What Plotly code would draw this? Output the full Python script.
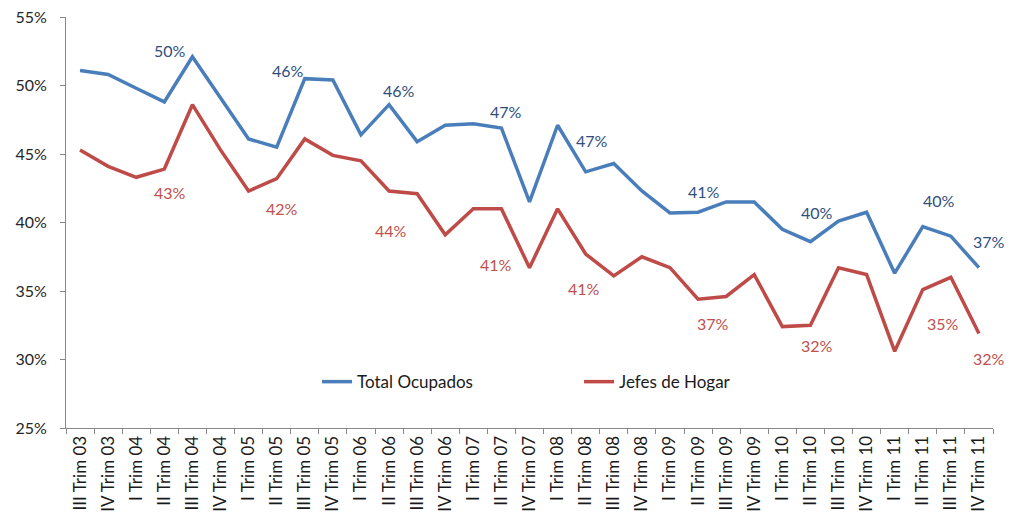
import plotly.graph_objects as go

TRIMESTRES = ['III Trim 03', 'IV Trim 03', 'I Trim 04', 'II Trim 04', 'III Trim 04', 'IV Trim 04',
              'I Trim 05', 'II Trim 05', 'III Trim 05', 'IV Trim 05', 'I Trim 06', 'II Trim 06',
              'III Trim 06', 'IV Trim 06', 'I Trim 07', 'II Trim 07', 'IV Trim 07', 'I Trim 08',
              'II Trim 08', 'III Trim 08', 'IV Trim 08', 'I Trim 09', 'II Trim 09', 'III Trim 09',
              'IV Trim 09', 'I Trim 10', 'II Trim 10', 'III Trim 10', 'IV Trim 10', 'I Trim 11',
              'II Trim 11', 'III Trim 11', 'IV Trim 11']

TOTAL_OCUPADOS = [51.1, 50.8, 49.8, 48.8, 52.1, 49.1, 46.1, 45.5, 50.5, 50.4, 46.4, 48.6,
                  45.9, 47.1, 47.2, 46.9, 41.5, 47.1, 43.7, 44.3, 42.3, 40.7, 40.75, 41.5,
                  41.5, 39.5, 38.6, 40.1, 40.75, 36.3, 39.7, 39.0, 36.7]

JEFES_HOGAR = [45.3, 44.1, 43.3, 43.9, 48.6, 45.3, 42.3, 43.2, 46.1, 44.9, 44.5, 42.3,
               42.1, 39.1, 41.0, 41.0, 36.7, 41.0, 37.7, 36.1, 37.5, 36.7, 34.4, 34.6,
               36.2, 32.4, 32.5, 36.7, 36.2, 30.6, 35.1, 36.0, 31.9]

# etiquetas de datos: texto, posicion x (indice de categoria), posicion y (%)
LABELS_TOTAL = [('50%', 3.20, 52.57), ('46%', 7.40, 51.12), ('46%', 11.36, 49.66),
                ('47%', 15.17, 48.08), ('47%', 18.22, 45.95), ('41%', 22.21, 42.25),
                ('40%', 26.25, 40.75), ('40%', 30.56, 41.6), ('37%', 32.34, 38.61)]
LABELS_JEFES = [('43%', 3.20, 42.18), ('42%', 7.20, 41.0), ('44%', 11.07, 39.39),
                ('41%', 14.80, 36.92), ('41%', 17.94, 35.17), ('37%', 22.52, 32.66),
                ('32%', 26.25, 31.04), ('35%', 30.71, 32.66), ('32%', 32.34, 30.04)]

BLUE = '#4A7EBB'
RED = '#BE4B48'

fig = go.Figure()
fig.add_trace(go.Scatter(x=TRIMESTRES, y=TOTAL_OCUPADOS, name='Total Ocupados',
                         mode='lines', line={'color': BLUE, 'width': 3.5}))
fig.add_trace(go.Scatter(x=TRIMESTRES, y=JEFES_HOGAR, name='Jefes de Hogar',
                         mode='lines', line={'color': RED, 'width': 3.5}))

for text, x, y in LABELS_TOTAL:
    fig.add_annotation(x=x, y=y, text=text, showarrow=False,
                       font={'color': '#2F4E7E', 'size': 16})
for text, x, y in LABELS_JEFES:
    fig.add_annotation(x=x, y=y, text=text, showarrow=False,
                       font={'color': '#C0504D', 'size': 16})

# the page body adds an 8px offset, so the figure is 8px smaller than the window
fig.update_layout(
    width=1010,
    height=523,
    margin={'l': 58, 'r': 25, 't': 9, 'b': 103, 'autoexpand': False},
    font={'family': 'Lato', 'size': 15, 'color': '#262626'},
    plot_bgcolor='white',
    paper_bgcolor='white',
    showlegend=True,
    legend={'orientation': 'h', 'x': 0.2708, 'y': 0.1117, 'yanchor': 'middle',
            'xanchor': 'left', 'entrywidth': 217, 'entrywidthmode': 'pixels',
            'font': {'size': 17, 'color': '#1a1a1a'}, 'bgcolor': 'rgba(0,0,0,0)'},
    xaxis={'type': 'category', 'showline': True, 'linecolor': '#888888', 'linewidth': 1,
           'ticks': 'outside', 'tickson': 'boundaries', 'ticklen': 5, 'tickcolor': '#888888',
           'tickangle': -90, 'showgrid': False, 'zeroline': False, 'automargin': False,
           'tickfont': {'size': 17, 'color': '#1a1a1a'}, 'range': [-0.5, 32.5]},
    yaxis={'range': [25, 55], 'dtick': 5, 'ticksuffix': '%', 'showline': True,
           'linecolor': '#888888', 'linewidth': 1, 'ticks': 'outside', 'ticklen': 5,
           'tickcolor': '#888888', 'showgrid': False, 'zeroline': False, 'automargin': False,
           'ticklabeloverflow': 'allow', 'ticklabelstandoff': 10,
           'tickfont': {'size': 16, 'color': '#262626'}},
)

fig.write_html('out.html')
